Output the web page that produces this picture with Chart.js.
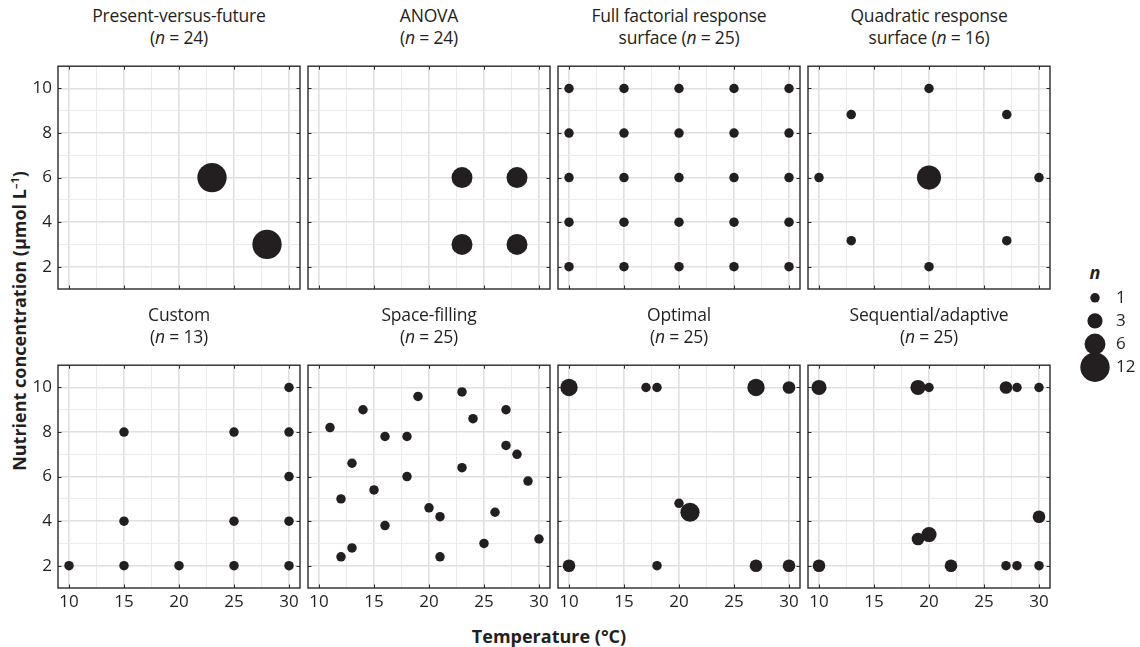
<!DOCTYPE html>
<html>
<head>
<meta charset="utf-8">
<script src="https://cdn.jsdelivr.net/npm/chart.js@4.4.1/dist/chart.umd.min.js"></script>
<style>
  html, body { margin: 0; padding: 0; background: #fff; }
  body { width: 1140px; height: 647px; position: relative; overflow: hidden; font-family: 'Open Sans', sans-serif; color: #231f20; }
  .panel { position: absolute; }
  .title { position: absolute; width: 242px; text-align: center; font-size: 17.5px; line-height: 21.5px; color: #231f20; z-index: 2; white-space: nowrap; letter-spacing: -0.2px; }
  #ylab { position: absolute; left: 19px; top: 321px; transform: translate(-50%, -50%) rotate(-90deg); white-space: nowrap; font-weight: 700; font-size: 18px; color: #231f20; }
  #ylab sup { font-size: 11px; }
  #xlab { position: absolute; left: 549px; top: 636px; transform: translate(-50%, -50%); white-space: nowrap; font-weight: 700; font-size: 18px; color: #231f20; }
  #nlab { position: absolute; left: 1095px; top: 272px; transform: translate(-50%, -50%); font-weight: 700; font-style: italic; font-size: 18px; color: #231f20; }
</style>
</head>
<body>
<div id="ylab">Nutrient concentration (µmol L<sup>–1</sup>)</div>
<div id="xlab">Temperature (°C)</div>
<div id="nlab">n</div>
<script>
// axis ticks
const xTicks = [10, 15, 20, 25, 30];
const xMinor = [12.5, 17.5, 22.5, 27.5];
const yTicks = [2, 4, 6, 8, 10];
const yMinor = [3, 5, 7, 9];
const legendN = [1, 3, 6, 12];

// panel titles
const titleTop = ['Present-versus-future', 'ANOVA', 'Full factorial response', 'Quadratic response',
                  'Custom', 'Space-filling', 'Optimal', 'Sequential/adaptive'];
const titleSub = ['', '', 'surface ', 'surface ', '', '', '', ''];
const nTotal = [24, 24, 25, 16, 13, 25, 25, 25];

// data: temperature, nutrient, replicates
const pvfTemp = [23, 28];
const pvfNutr = [6, 3];
const pvfN = [12, 12];

const anovaTemp = [23, 28, 23, 28];
const anovaNutr = [6, 6, 3, 3];
const anovaN = [6, 6, 6, 6];

const fullTemp = [10, 15, 20, 25, 30, 10, 15, 20, 25, 30, 10, 15, 20, 25, 30, 10, 15, 20, 25, 30, 10, 15, 20, 25, 30];
const fullNutr = [10, 10, 10, 10, 10, 8, 8, 8, 8, 8, 6, 6, 6, 6, 6, 4, 4, 4, 4, 4, 2, 2, 2, 2, 2];
const fullN = [1, 1, 1, 1, 1, 1, 1, 1, 1, 1, 1, 1, 1, 1, 1, 1, 1, 1, 1, 1, 1, 1, 1, 1, 1];

const quadTemp = [20, 12.93, 27.07, 10, 20, 30, 12.93, 27.07, 20];
const quadNutr = [10, 8.83, 8.83, 6, 6, 6, 3.17, 3.17, 2];
const quadN = [1, 1, 1, 1, 8, 1, 1, 1, 1];

const customTemp = [10, 15, 20, 25, 30, 15, 25, 30, 30, 15, 25, 30, 30];
const customNutr = [2, 2, 2, 2, 2, 4, 4, 4, 6, 8, 8, 8, 10];
const customN = [1, 1, 1, 1, 1, 1, 1, 1, 1, 1, 1, 1, 1];

const spaceTemp = [11, 12, 12, 13, 13, 14, 15, 16, 16, 18, 18, 19, 20, 21, 21, 23, 23, 24, 25, 26, 27, 27, 28, 29, 30];
const spaceNutr = [8.2, 5, 2.4, 6.6, 2.8, 9, 5.4, 7.8, 3.8, 7.8, 6, 9.6, 4.6, 4.2, 2.4, 9.8, 6.4, 8.6, 3, 4.4, 9, 7.4, 7, 5.8, 3.2];
const spaceN = [1, 1, 1, 1, 1, 1, 1, 1, 1, 1, 1, 1, 1, 1, 1, 1, 1, 1, 1, 1, 1, 1, 1, 1, 1];

const optTemp = [10, 17, 18, 27, 30, 20, 21, 10, 18, 27, 30];
const optNutr = [10, 10, 10, 10, 10, 4.8, 4.4, 2, 2, 2, 2];
const optN = [4, 1, 1, 4, 2, 1, 5, 2, 1, 2, 2];

const seqTemp = [10, 19, 20, 27, 28, 30, 30, 19, 20, 10, 22, 27, 28, 30];
const seqNutr = [10, 10, 10, 10, 10, 10, 4.2, 3.2, 3.4, 2, 2, 2, 2, 2];
const seqN = [3, 3, 1, 2, 1, 1, 2, 2, 3, 2, 2, 1, 1, 1];

const panelData = [
  [pvfTemp, pvfNutr, pvfN], [anovaTemp, anovaNutr, anovaN], [fullTemp, fullNutr, fullN], [quadTemp, quadNutr, quadN],
  [customTemp, customNutr, customN], [spaceTemp, spaceNutr, spaceN], [optTemp, optNutr, optN], [seqTemp, seqNutr, seqN]
];

// bubble area grows linearly with n
const radius = n => Math.sqrt(5 + 17.5 * n);

const PW = 242, PH = 235, PADL = 40, PADB = 26, PADT = 4, PADR = 4;
const colLeft = [58, 308, 558, 808];
const rowTop = [54, 353];
const DOT = '#231f20';
const MAJ = '#e0e0e0', MIN = '#ececec';

Chart.defaults.font.family = "'Open Sans', sans-serif";
Chart.defaults.font.size = 17;
Chart.defaults.color = '#231f20';

const framePlugin = {
  id: 'frame',
  afterDraw(chart) {
    const { ctx, chartArea: a, scales } = chart;
    ctx.save();
    ctx.strokeStyle = '#2a2a2a';
    ctx.lineWidth = 1;
    ctx.beginPath();
    xTicks.forEach(v => {
      const px = Math.round(scales.x.getPixelForValue(v)) + 0.5;
      ctx.moveTo(px, a.top); ctx.lineTo(px, a.top + 3.5);
      ctx.moveTo(px, a.bottom); ctx.lineTo(px, a.bottom - 3.5);
    });
    yTicks.forEach(v => {
      const py = Math.round(scales.y.getPixelForValue(v)) + 0.5;
      ctx.moveTo(a.left, py); ctx.lineTo(a.left + 3.5, py);
      ctx.moveTo(a.right, py); ctx.lineTo(a.right - 3.5, py);
    });
    ctx.stroke();
    ctx.lineWidth = 1.4;
    ctx.strokeRect(a.left, a.top, a.right - a.left, a.bottom - a.top);
    ctx.restore();
  }
};

function gridColor(majors) {
  return c => (c.tick && majors.includes(c.tick.value)) ? MAJ : MIN;
}
function gridWidth(majors) {
  return c => (c.tick && majors.includes(c.tick.value)) ? 1.6 : 1;
}

function makePanel(i) {
  const col = i % 4, row = Math.floor(i / 4);

  const t = document.createElement('div');
  t.className = 'title';
  t.style.left = colLeft[col] + 'px';
  t.style.top = (rowTop[row] - 49) + 'px';
  t.innerHTML = titleTop[i] + '<br>' + titleSub[i] + '(<i>n</i> = ' + nTotal[i] + ')';
  document.body.appendChild(t);

  const div = document.createElement('div');
  div.className = 'panel';
  div.style.left = (colLeft[col] - PADL) + 'px';
  div.style.top = (rowTop[row] - PADT) + 'px';
  const cv = document.createElement('canvas');
  cv.width = PW + PADL + PADR;
  cv.height = PH + PADT + PADB;
  div.appendChild(cv);
  document.body.appendChild(div);

  const [tx, ny, nn] = panelData[i];
  new Chart(cv, {
    type: 'bubble',
    data: {
      datasets: [{
        data: tx.map((v, k) => ({ x: v, y: ny[k], r: radius(nn[k]) })),
        backgroundColor: DOT, borderWidth: 0, hoverRadius: 0, clip: false
      }]
    },
    options: {
      responsive: false, animation: false, events: [],
      layout: { autoPadding: false, padding: { left: 0, top: PADT, right: PADR, bottom: 0 } },
      plugins: { legend: { display: false }, tooltip: { enabled: false } },
      scales: {
        x: {
          type: 'linear', min: 9, max: 31,
          afterBuildTicks: s => { s.ticks = xTicks.concat(xMinor).sort((a, b) => a - b).map(v => ({ value: v })); },
          afterFit: s => { s.height = PADB; },
          grid: { drawTicks: false, color: gridColor(xTicks), lineWidth: gridWidth(xTicks) },
          border: { display: false },
          ticks: {
            padding: 4, autoSkip: false, maxRotation: 0,
            callback: v => (row === 1 && xTicks.includes(v)) ? String(v) : ''
          }
        },
        y: {
          type: 'linear', min: 1, max: 11,
          afterBuildTicks: s => { s.ticks = yTicks.concat(yMinor).sort((a, b) => a - b).map(v => ({ value: v })); },
          afterFit: s => { s.width = PADL; },
          grid: { drawTicks: false, color: gridColor(yTicks), lineWidth: gridWidth(yTicks) },
          border: { display: false },
          ticks: {
            padding: 6, autoSkip: false,
            callback: v => (col === 0 && yTicks.includes(v)) ? String(v) : ''
          }
        }
      }
    },
    plugins: [framePlugin]
  });
}

for (let i = 0; i < 8; i++) makePanel(i);

// size legend
const lgDiv = document.createElement('div');
lgDiv.className = 'panel';
lgDiv.style.left = '1080px';
lgDiv.style.top = '270px';
const lg = document.createElement('canvas');
lg.width = 70;
lg.height = 125;
lgDiv.appendChild(lg);
document.body.appendChild(lgDiv);

new Chart(lg, {
  type: 'bubble',
  data: {
    datasets: [{
      data: legendN.map(n => ({ x: 0, y: String(n), r: radius(n) })),
      backgroundColor: DOT, borderWidth: 0, hoverRadius: 0, clip: false
    }]
  },
  options: {
    responsive: false, animation: false, events: [],
    layout: { autoPadding: false, padding: { top: 10.5, bottom: 14.5, left: 0, right: 0 } },
    plugins: { legend: { display: false }, tooltip: { enabled: false } },
    scales: {
      x: { type: 'linear', min: -1, max: 1, display: false },
      y: {
        type: 'category', labels: legendN.map(String), position: 'right', offset: true,
        grid: { display: false, drawTicks: false }, border: { display: false },
        ticks: { padding: 6 },
        afterFit: s => { s.width = 40; }
      }
    }
  }
});
</script>
</body>
</html>
